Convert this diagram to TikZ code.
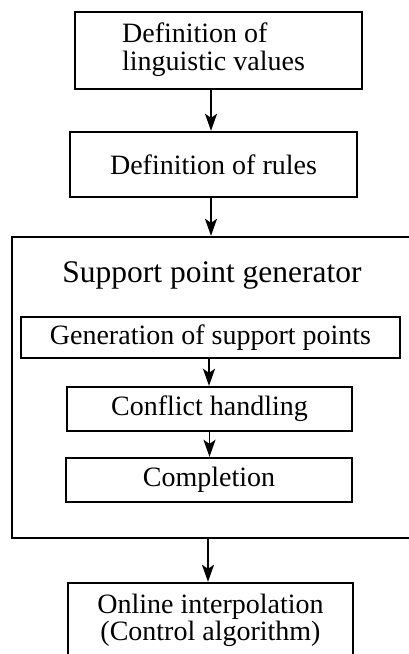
\documentclass[tikz,border=0pt]{standalone}
\usepackage{fontspec}
\setmainfont{Liberation Serif}
\usetikzlibrary{arrows.meta}
\begin{document}
\begin{tikzpicture}[x=1pt,y=-1pt,
  blockbox/.style={draw, line width=2.4pt, inner sep=0pt, align=center,
    font=\fontsize{28}{26}\selectfont},
  flowarrow/.style={line width=1.8pt, -{Stealth[length=17pt,width=12pt,inset=4pt]}},
  titletext/.style={font=\fontsize{31.5}{30}\selectfont, inner sep=0pt}]
\useasboundingbox (0,0) rectangle (409,654);

% top-level steps
\node[blockbox, minimum width=287pt, minimum height=77pt] (vals) at (218.5,50.5)
  {\begin{tabular}{@{}l@{\hspace{10pt}}}Definition of\\ linguistic values\end{tabular}};
\node[blockbox, minimum width=287pt, minimum height=65pt] (rules) at (213.5,164.5)
  {Definition of rules};

% support point generator with its three sub-steps
\node[draw, line width=2.4pt, minimum width=402pt, minimum height=301pt, inner sep=0pt]
  (spg) at (213,387.5) {};
\node[titletext] (spgtitle) at (212,275) {Support point generator};
\node[blockbox, minimum width=379pt, minimum height=41pt] (gen) at (210.5,337.5)
  {Generation of support points};
\node[blockbox, minimum width=285pt, minimum height=44pt] (conf) at (209.5,409)
  {Conflict handling};
\node[blockbox, minimum width=286pt, minimum height=44pt] (compl) at (209,480)
  {Completion};

% final step
\node[blockbox, minimum width=285pt, minimum height=77pt] (online) at (210.5,621.5)
  {\begin{tabular}{@{}c@{}}Online interpolation\\ (Control algorithm)\end{tabular}};

% connectors
\draw[flowarrow] ([xshift=-2.5pt]rules.north |- vals.south) -- ([xshift=-2.5pt]rules.north);
\draw[flowarrow] ([xshift=-2.5pt]rules.south) -- ([xshift=-2.5pt]rules.south |- spg.north);
\draw[flowarrow] ([xshift=-1.5pt]gen.south) -- ([xshift=-1.5pt]gen.south |- conf.north);
\draw[flowarrow] (conf.south) -- (conf.south |- compl.north);
\draw[flowarrow] ([xshift=-2.5pt]online.north |- spg.south) -- ([xshift=-2.5pt]online.north);
\end{tikzpicture}
\end{document}
